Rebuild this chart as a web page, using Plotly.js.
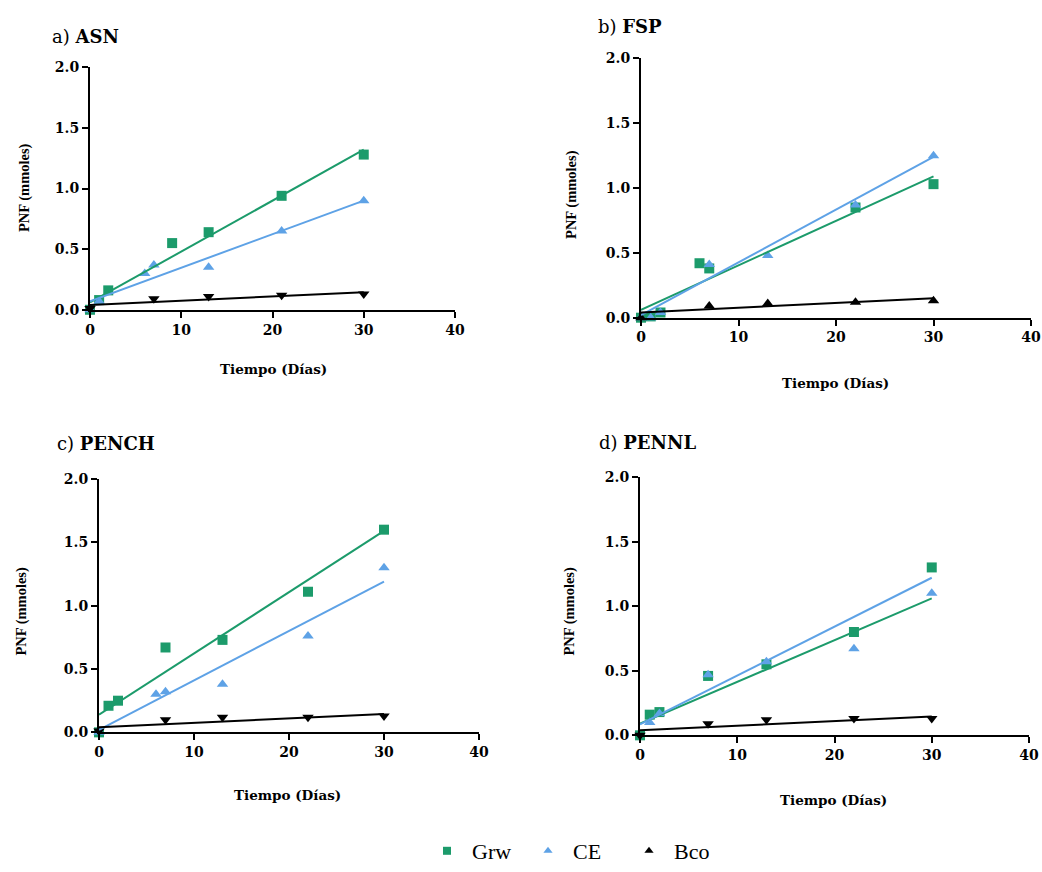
<!DOCTYPE html>
<html>
<head>
<meta charset="utf-8">
<script src="https://cdn.plot.ly/plotly-3.0.1.min.js"></script>
<style>html,body{margin:0;padding:0;background:#fff;}#chart{width:1042px;height:872px;}</style>
</head>
<body>
<div id="chart"></div>
<script>
// ---- Data ----
const panelNames = ['ASN', 'FSP', 'PENCH', 'PENNL'];
const panelLetters = ['a)', 'b)', 'c)', 'd)'];
const seriesNames = ['Grw', 'CE', 'Bco'];

// Panel a) ASN
const grwX_a = [0, 1, 2, 9, 13, 21, 30];
const grwY_a = [0.0, 0.08, 0.16, 0.55, 0.64, 0.94, 1.28];
const ceX_a = [0, 1, 6, 7, 13, 21, 30];
const ceY_a = [0.0, 0.07, 0.30, 0.37, 0.35, 0.65, 0.90];
const bcoX_a = [0, 7, 13, 21, 30];
const bcoY_a = [0.01, 0.09, 0.11, 0.12, 0.13];
const grwFit_a = [0.06, 1.32];
const ceFit_a = [0.07, 0.90];
const bcoFit_a = [0.04, 0.145];

// Panel b) FSP
const grwX_b = [0, 1, 2, 6, 7, 22, 30];
const grwY_b = [0.0, 0.01, 0.04, 0.42, 0.38, 0.85, 1.03];
const ceX_b = [0, 1, 2, 7, 13, 22, 30];
const ceY_b = [0.0, 0.0, 0.04, 0.41, 0.48, 0.87, 1.25];
const bcoX_b = [0, 7, 13, 22, 30];
const bcoY_b = [0.0, 0.09, 0.11, 0.12, 0.13];
const grwFit_b = [0.06, 1.09];
const ceFit_b = [0.02, 1.24];
const bcoFit_b = [0.04, 0.15];

// Panel c) PENCH
const grwX_c = [0, 1, 2, 7, 13, 22, 30];
const grwY_c = [0.0, 0.21, 0.25, 0.67, 0.73, 1.11, 1.60];
const ceX_c = [0, 6, 7, 13, 22, 30];
const ceY_c = [0.0, 0.30, 0.32, 0.38, 0.76, 1.30];
const bcoX_c = [0, 7, 13, 22, 30];
const bcoY_c = [0.01, 0.10, 0.12, 0.12, 0.13];
const grwFit_c = [0.14, 1.59];
const ceFit_c = [0.02, 1.19];
const bcoFit_c = [0.04, 0.145];

// Panel d) PENNL
const grwX_d = [0, 1, 2, 7, 13, 22, 30];
const grwY_d = [0.0, 0.16, 0.18, 0.46, 0.55, 0.80, 1.30];
const ceX_d = [0, 1, 2, 7, 13, 22, 30];
const ceY_d = [-0.01, 0.10, 0.17, 0.47, 0.57, 0.67, 1.10];
const bcoX_d = [0, 7, 13, 22, 30];
const bcoY_d = [0.0, 0.09, 0.12, 0.13, 0.13];
const grwFit_d = [0.09, 1.06];
const ceFit_d = [0.085, 1.22];
const bcoFit_d = [0.04, 0.145];

const fitX = [0, 30];
const xTicks = [0, 10, 20, 30, 40];
const xTickText = ['0', '10', '20', '30', '40'];
const yTicks = [0, 0.5, 1.0, 1.5, 2.0];
const yTickText = ['0.0', '0.5', '1.0', '1.5', '2.0'];
const xTitle = 'Tiempo (Días)';
const yTitle = 'PNF (mmoles)';

// ---- Build ----
const GREEN = '#1c9b6b';
const BLUE = '#5ea2e6';
const BLACK = '#000000';

const panels = [
  {gx: grwX_a, gy: grwY_a, cx: ceX_a, cy: ceY_a, bx: bcoX_a, by: bcoY_a, gf: grwFit_a, cf: ceFit_a, bf: bcoFit_a, bsym: 'triangle-down'},
  {gx: grwX_b, gy: grwY_b, cx: ceX_b, cy: ceY_b, bx: bcoX_b, by: bcoY_b, gf: grwFit_b, cf: ceFit_b, bf: bcoFit_b, bsym: 'triangle-up'},
  {gx: grwX_c, gy: grwY_c, cx: ceX_c, cy: ceY_c, bx: bcoX_c, by: bcoY_c, gf: grwFit_c, cf: ceFit_c, bf: bcoFit_c, bsym: 'triangle-down'},
  {gx: grwX_d, gy: grwY_d, cx: ceX_d, cy: ceY_d, bx: bcoX_d, by: bcoY_d, gf: grwFit_d, cf: ceFit_d, bf: bcoFit_d, bsym: 'triangle-down'}
];

// pixel layout of the four plot areas (left, right, top, bottom)
const W = 1042, H = 872;
const boxes = [
  [90, 455, 68, 313],
  [641, 1031, 59, 321],
  [99, 479, 484, 740],
  [640, 1029, 482, 743]
];
const titlePos = [[50, 37], [596, 27], [55, 448], [597, 447]];
const xTitlePos = [[273, 373], [835, 387], [287, 803], [833, 808]];
const yTitlePos = [[24, 190], [572, 197], [22, 618], [570, 618]];

const traces = [];
const layout = {
  width: W, height: H,
  margin: {l: 0, r: 0, t: 0, b: 0},
  paper_bgcolor: '#ffffff',
  plot_bgcolor: '#ffffff',
  showlegend: true,
  annotations: [],
  font: {family: 'DejaVu Serif', color: '#000'}
};

const tickFont = {family: 'DejaVu Serif', size: 14, color: '#000', weight: 700};
const bold = s => '<b>' + s + '</b>';

panels.forEach((p, i) => {
  const n = i === 0 ? '' : String(i + 1);
  const xa = 'x' + n, ya = 'y' + n;
  const [l, r, t, b] = boxes[i];
  layout['xaxis' + n] = {
    domain: [l / W, r / W], anchor: ya, range: [0, 40],
    tickvals: xTicks, ticktext: xTickText.map(bold), ticks: 'outside', ticklen: 6, tickwidth: 2, tickcolor: '#000',
    showline: true, linewidth: 2, linecolor: '#000', showgrid: false, zeroline: false,
    tickfont: tickFont, fixedrange: true
  };
  layout['yaxis' + n] = {
    domain: [1 - b / H, 1 - t / H], anchor: xa, range: [0, 2],
    tickvals: yTicks, ticktext: yTickText.map(bold), ticks: 'outside', ticklen: 6, tickwidth: 2, tickcolor: '#000',
    showline: true, linewidth: 2, linecolor: '#000', showgrid: false, zeroline: false,
    tickfont: tickFont, fixedrange: true
  };
  // markers
  traces.push({x: p.gx, y: p.gy, xaxis: xa, yaxis: ya, type: 'scatter', mode: 'markers', showlegend: false,
    cliponaxis: false, marker: {symbol: 'square', size: 10, color: GREEN}});
  traces.push({x: p.cx, y: p.cy, xaxis: xa, yaxis: ya, type: 'scatter', mode: 'markers', showlegend: false,
    cliponaxis: false, marker: {symbol: 'triangle-up', size: 10, color: BLUE}});
  traces.push({x: p.bx, y: p.by, xaxis: xa, yaxis: ya, type: 'scatter', mode: 'markers', showlegend: false,
    cliponaxis: false, marker: {symbol: p.bsym, size: 10, color: BLACK}});
  // fit lines
  traces.push({x: fitX, y: p.gf, xaxis: xa, yaxis: ya, type: 'scatter', mode: 'lines', showlegend: false,
    line: {color: GREEN, width: 2}});
  traces.push({x: fitX, y: p.cf, xaxis: xa, yaxis: ya, type: 'scatter', mode: 'lines', showlegend: false,
    line: {color: BLUE, width: 2}});
  traces.push({x: fitX, y: p.bf, xaxis: xa, yaxis: ya, type: 'scatter', mode: 'lines', showlegend: false,
    line: {color: BLACK, width: 2}});

  // titles
  layout.annotations.push({
    xref: 'paper', yref: 'paper', x: titlePos[i][0] / W, y: 1 - titlePos[i][1] / H,
    xanchor: 'left', yanchor: 'middle', showarrow: false,
    text: panelLetters[i] + ' <b>' + panelNames[i] + '</b>',
    font: {family: 'DejaVu Serif', size: 18, color: '#000'}
  });
  layout.annotations.push({
    xref: 'paper', yref: 'paper', x: xTitlePos[i][0] / W, y: 1 - xTitlePos[i][1] / H,
    xanchor: 'center', yanchor: 'middle', showarrow: false,
    text: bold(xTitle),
    font: {family: 'DejaVu Serif', size: 13.5, color: '#000'}
  });
  layout.annotations.push({
    xref: 'paper', yref: 'paper', x: yTitlePos[i][0] / W, y: 1 - yTitlePos[i][1] / H,
    xanchor: 'center', yanchor: 'middle', showarrow: false, textangle: -90,
    text: bold(yTitle),
    font: {family: 'Liberation Serif', size: 14.5, color: '#000'}
  });
});

// legend entries
const legendSyms = ['square', 'triangle-up', 'triangle-up'];
const legendCols = [GREEN, BLUE, BLACK];
seriesNames.forEach((s, k) => {
  traces.push({x: [null], y: [null], type: 'scatter', mode: 'markers', name: s, showlegend: true,
    marker: {symbol: legendSyms[k], size: 8, color: legendCols[k]}});
});
layout.legend = {
  orientation: 'h', x: 422 / W, xanchor: 'left', y: 1 - 860 / H, yanchor: 'middle',
  font: {family: 'Liberation Serif', size: 22, color: '#000'},
  itemwidth: 40, entrywidth: 46, entrywidthmode: 'pixels', bgcolor: 'rgba(0,0,0,0)'
};

Plotly.newPlot('chart', traces, layout, {displayModeBar: false, staticPlot: true});
</script>
</body>
</html>
